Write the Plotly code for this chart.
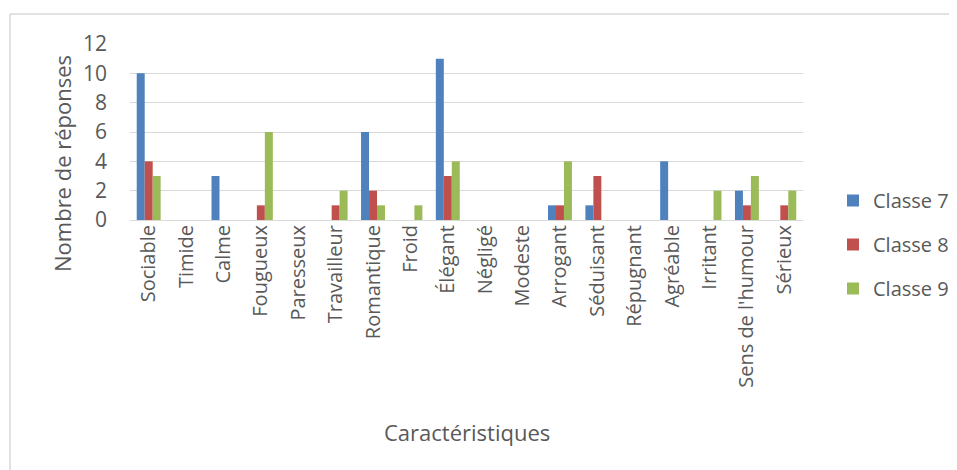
import plotly.graph_objects as go

categories = ["Sociable", "Timide", "Calme", "Fougueux", "Paresseux", "Travailleur",
              "Romantique", "Froid", "Élégant", "Négligé", "Modeste", "Arrogant",
              "Séduisant", "Répugnant", "Agréable", "Irritant", "Sens de l'humour", "Sérieux"]
classe7 = [10, 0, 3, 0, 0, 0, 6, 0, 11, 0, 0, 1, 1, 0, 4, 0, 2, 0]
classe8 = [4, 0, 0, 1, 0, 1, 2, 0, 3, 0, 0, 1, 3, 0, 0, 0, 1, 1]
classe9 = [3, 0, 0, 6, 0, 2, 1, 1, 4, 0, 0, 4, 0, 0, 0, 2, 3, 2]
series_names = ["Classe 7", "Classe 8", "Classe 9"]
y_ticks = [0, 2, 4, 6, 8, 10, 12]

colors = ["#4F81BD", "#C0504D", "#9BBB59"]
FONT = "Open Sans"
TXT = "#595959"

OFF = 8  # page body margin
W, H = 957 - OFF, 470 - OFF
# target pixel positions in the screenshot
PL, PR, PT, PB = 130, 803, 44, 220
L, T = PL - OFF, PT - OFF
R = W - (PR - OFF)
B = H - (PB - OFF)
pw, ph = W - L - R, H - T - B

def px_x(x):
    return (x - OFF - L) / pw

def px_y(y):
    return (H - B - (y - OFF)) / ph

fig = go.Figure()
for name, vals, c in zip(series_names, [classe7, classe8, classe9], colors):
    fig.add_trace(go.Bar(x=categories, y=vals, name=name, marker_color=c,
                         marker_line_width=0, legendgroup=name))

fig.update_layout(
    width=W, height=H,
    margin=dict(l=L, r=R, t=T, b=B, autoexpand=False),
    paper_bgcolor="white", plot_bgcolor="white",
    barmode="group", bargap=0.36, bargroupgap=0,
    font=dict(family=FONT, color=TXT),
    showlegend=True,
    legend=dict(x=px_x(833), y=px_y(181), xanchor="left", yanchor="top",
                font=dict(size=20, color=TXT, family=FONT),
                tracegroupgap=15, traceorder="grouped", itemwidth=30),
    xaxis=dict(tickangle=-90, tickfont=dict(size=20, color=TXT, family=FONT),
               showgrid=False, showline=False, ticks="", ticklen=0),
    yaxis=dict(range=[0, 12], tickvals=y_ticks, tickfont=dict(size=21, color=TXT, family=FONT),
               showgrid=True, gridcolor="#D9D9D9", gridwidth=1, zeroline=True,
               zerolinecolor="#D9D9D9", zerolinewidth=1, showline=False, ticks="",
               ticklabelstandoff=22),
    annotations=[
        dict(text="Nombre de réponses", x=px_x(62), y=px_y(164), xref="paper", yref="paper",
             textangle=-90, showarrow=False, font=dict(size=22, color=TXT, family=FONT),
             xanchor="center", yanchor="middle"),
        dict(text="Caractéristiques", x=px_x(467), y=px_y(432), xref="paper", yref="paper",
             showarrow=False, font=dict(size=22, color=TXT, family=FONT),
             xanchor="center", yanchor="middle"),
    ],
    shapes=[
        dict(type="line", xref="paper", yref="paper", x0=px_x(10), x1=px_x(957),
             y0=px_y(14), y1=px_y(14), line=dict(color="#D9D9D9", width=1.5)),
        dict(type="line", xref="paper", yref="paper", x0=px_x(10), x1=px_x(10),
             y0=px_y(14), y1=px_y(470), line=dict(color="#D9D9D9", width=1.5)),
    ],
)

fig.write_html("out.html")
